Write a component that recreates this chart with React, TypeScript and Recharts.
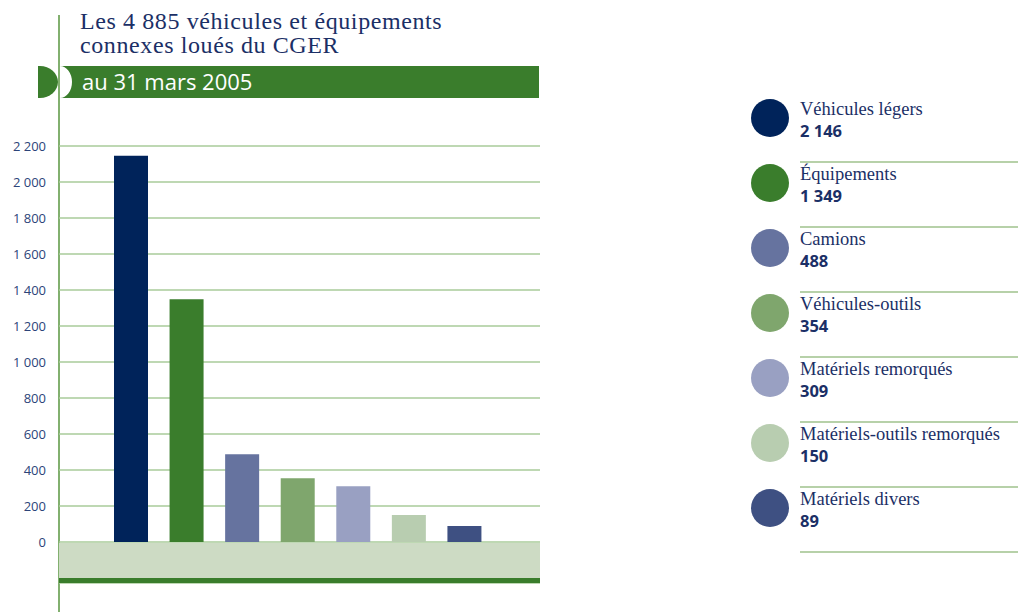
import React from "react";
import { BarChart, Bar, Cell, XAxis, YAxis, CartesianGrid } from "recharts";

const categories = [
  "Véhicules légers",
  "Équipements",
  "Camions",
  "Véhicules-outils",
  "Matériels remorqués",
  "Matériels-outils remorqués",
  "Matériels divers",
];
const counts = [2146, 1349, 488, 354, 309, 150, 89];
const yTicks = [0, 200, 400, 600, 800, 1000, 1200, 1400, 1600, 1800, 2000, 2200];
const COLORS = ["#00235a", "#3a7d2c", "#66739f", "#7fa66d", "#99a0c2", "#b8cdb0", "#3e5082"];

const NAVY = "#1b2f66";
const GREEN = "#3a7d2c";
const RULE = "#b7d1a9";

const fmt = (n: number) => String(n).replace(/\B(?=(\d{3})+(?!\d))/g, " ");

const data = categories.map((name, i) => ({ name, value: counts[i] }));

function Legend() {
  return (
    <div style={{ position: "absolute", left: 750, top: 96, width: 268 }}>
      {data.map((d, i) => (
        <div key={d.name} style={{ position: "relative", height: 65 }}>
          {i > 0 && (
            <div style={{ position: "absolute", left: 50, right: 0, top: 0, height: 1.5, background: RULE }} />
          )}
          <div
            style={{
              position: "absolute",
              left: 1,
              top: 3,
              width: 38,
              height: 38,
              borderRadius: "50%",
              background: COLORS[i],
            }}
          />
          <div
            style={{
              position: "absolute",
              left: 50,
              top: 5,
              fontFamily: "'Liberation Serif', serif",
              fontSize: 18.5,
              lineHeight: "17px",
              color: NAVY,
              whiteSpace: "nowrap",
            }}
          >
            {d.name}
          </div>
          <div
            style={{
              position: "absolute",
              left: 50,
              top: 26,
              fontFamily: "'Open Sans', sans-serif",
              fontWeight: 700,
              fontSize: 16.5,
              lineHeight: "17px",
              color: NAVY,
            }}
          >
            {fmt(d.value)}
          </div>
        </div>
      ))}
      <div style={{ position: "absolute", left: 50, right: 0, top: 455, height: 1.5, background: RULE }} />
    </div>
  );
}

export default function App() {
  return (
    <div style={{ position: "absolute", left: 0, top: 0, width: 1023, height: 612, background: "#fff", overflow: "hidden" }}>
      {/* vertical rule */}
      <div style={{ position: "absolute", left: 58, top: 15, width: 1.5, height: 597, background: "#82b06f" }} />

      {/* title */}
      <div
        style={{
          position: "absolute",
          left: 80,
          top: 9,
          fontFamily: "'Liberation Serif', serif",
          fontSize: 24,
          lineHeight: "24px",
          letterSpacing: 0.6,
          color: NAVY,
        }}
      >
        Les 4 885 véhicules et équipements
        <br />
        connexes loués du CGER
      </div>

      {/* banner */}
      <svg style={{ position: "absolute", left: 0, top: 0 }} width={560} height={110}>
        <path d="M 38 66 L 40 66 A 18 16 0 0 1 40 98 L 38 98 Z" fill={GREEN} />
        <path d="M 60 66 L 539 66 L 539 98 L 60 98 A 12 16 0 0 0 60 66 Z" fill={GREEN} />
      </svg>
      <div
        style={{
          position: "absolute",
          left: 82,
          top: 67,
          fontFamily: "'Open Sans', sans-serif",
          fontSize: 22,
          lineHeight: "28px",
          color: "#fff",
        }}
      >
        au 31 mars 2005
      </div>

      <div style={{ position: "absolute", left: 0, top: 0 }}>
        <BarChart
          width={560}
          height={612}
          data={data}
          margin={{ top: 146, right: 20, bottom: 29, left: 0 }}
        >
          <CartesianGrid horizontal vertical={false} stroke="#a9cb9a" strokeWidth={1.5} />
          <XAxis dataKey="name" hide padding={{ left: 44, right: 48 }} />
          <YAxis
            width={59}
            domain={[-228, 2200]}
            ticks={yTicks}
            interval={0}
            axisLine={false}
            tickLine={false}
            tickSize={0}
            tickMargin={13}
            tickFormatter={fmt}
            tick={{ fill: "#2c4479", fontSize: 13, fontFamily: "'Open Sans', sans-serif" }}
          />
          <Bar dataKey="value" barSize={34} isAnimationActive={false}>
            {data.map((d, i) => (
              <Cell key={d.name} fill={COLORS[i]} />
            ))}
          </Bar>
        </BarChart>
      </div>

      {/* band below zero */}
      <div style={{ position: "absolute", left: 59, top: 543, width: 481, height: 35, background: "#cddbc4" }} />
      <div style={{ position: "absolute", left: 59, top: 578, width: 481, height: 5, background: GREEN }} />

      <Legend />
    </div>
  );
}
